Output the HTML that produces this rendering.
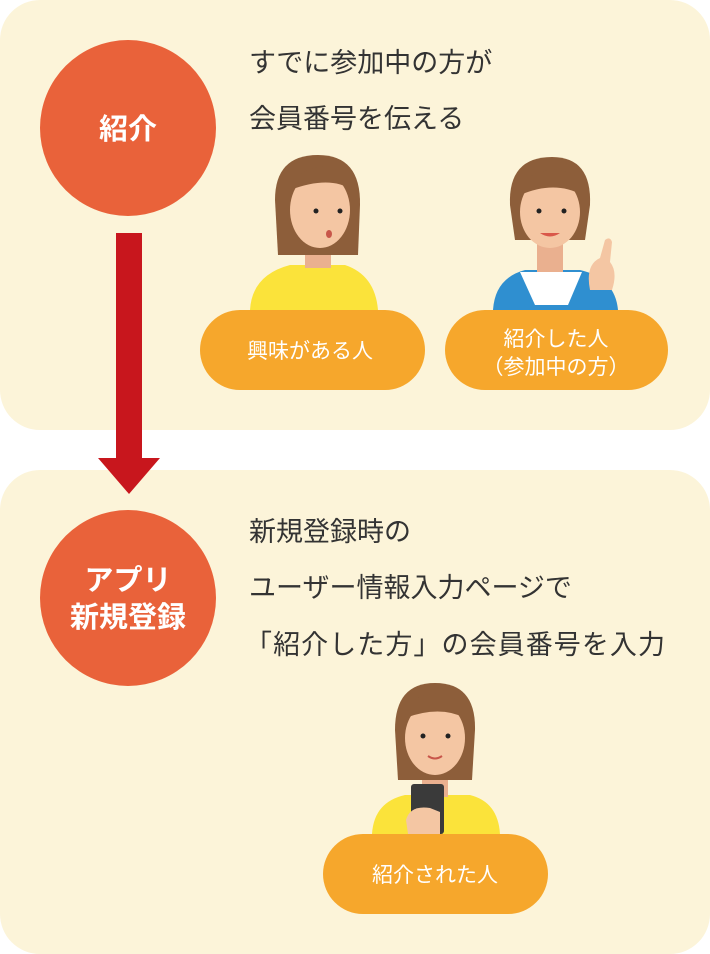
<!DOCTYPE html>
<html><head><meta charset="utf-8"><style>
body{margin:0;background:#fff;}
svg{display:block}
text{font-family:"Liberation Sans","Noto Sans CJK JP",sans-serif;}
</style></head><body>
<svg width="710" height="954" viewBox="0 0 710 954" xmlns="http://www.w3.org/2000/svg">
<rect x="0" y="0" width="710" height="430" rx="40" fill="#fcf4d9"/>
<rect x="0" y="470" width="710" height="484" rx="40" fill="#fcf4d9"/>
<rect x="116" y="233" width="26" height="227" fill="#c8161d"/>
<polygon points="98,458 160,458 129,494" fill="#c8161d"/>
<circle cx="128" cy="128" r="88" fill="#e9623a"/>
<text x="128" y="139" text-anchor="middle" font-size="29" font-weight="bold" fill="#fff">紹介</text>
<circle cx="128" cy="598" r="88" fill="#e9623a"/>
<text x="128" y="590" text-anchor="middle" font-size="29" font-weight="bold" fill="#fff">アプリ</text>
<text x="128" y="627" text-anchor="middle" font-size="29" font-weight="bold" fill="#fff">新規登録</text>
<g font-size="27" fill="#333">
<text x="249" y="72">すでに参加中の方が</text>
<text x="249" y="128">会員番号を伝える</text>
<text x="249" y="541">新規登録時の</text>
<text x="249" y="597">ユーザー情報入力ページで</text>
<text x="245" y="654" textLength="420">「紹介した方」の会員番号を入力</text>
</g>
<g>
<path d="M250,310 Q252,275 290,265 L345,265 Q375,275 378,310 Z" fill="#fbe33a"/>
<rect x="305" y="240" width="26" height="28" fill="#eab08f"/>
<path d="M275,200 Q275,155 318,155 Q361,155 360,205 L358,255 L278,255 Z" fill="#8d5e3a"/>
<ellipse cx="320" cy="210" rx="30" ry="38" fill="#f4c6a3"/>
<path d="M290,190 Q300,160 345,168 Q352,180 352,190 Q330,175 290,190Z" fill="#8d5e3a"/>
<circle cx="316" cy="211" r="2.5" fill="#222"/><circle cx="340" cy="211" r="2.5" fill="#222"/>
<ellipse cx="329" cy="234" rx="3" ry="4" fill="#c8564a"/>
</g>
<g>
<path d="M493,310 Q495,278 525,270 L580,270 Q615,278 618,310 Z" fill="#2f8fd0"/>
<path d="M520,272 L582,272 L568,305 L535,305 Z" fill="#fff"/>
<rect x="537" y="240" width="26" height="32" fill="#eab08f"/>
<path d="M510,205 Q508,157 552,157 Q592,157 590,205 L585,240 L515,240 Z" fill="#8d5e3a"/>
<ellipse cx="550" cy="212" rx="30" ry="36" fill="#f4c6a3"/>
<path d="M520,195 Q525,168 560,170 Q585,175 582,195 Q555,180 520,195Z" fill="#8d5e3a"/>
<circle cx="539" cy="211" r="2.5" fill="#222"/><circle cx="564" cy="211" r="2.5" fill="#222"/>
<path d="M540,233 Q550,240 560,233 Z" fill="#d9584a"/>
<path d="M590,290 Q585,265 600,258 L605,240 Q610,236 612,242 L610,262 Q618,272 612,290 Z" fill="#f4c6a3"/>
</g>
<g>
<path d="M372,834 Q374,802 405,795 L470,795 Q498,802 500,834 Z" fill="#fbe33a"/>
<rect x="422" y="762" width="26" height="35" fill="#eab08f"/>
<path d="M395,730 Q395,683 435,683 Q476,683 475,730 L472,780 L398,780 Z" fill="#8d5e3a"/>
<ellipse cx="435" cy="738" rx="30" ry="37" fill="#f4c6a3"/>
<path d="M405,718 Q410,692 440,694 Q465,698 465,718 Q440,705 405,718Z" fill="#8d5e3a"/>
<circle cx="423" cy="736" r="2.5" fill="#222"/><circle cx="448" cy="736" r="2.5" fill="#222"/>
<path d="M428,756 Q435,761 442,756" stroke="#c8564a" stroke-width="2" fill="none"/>
<rect x="411" y="784" width="33" height="50" rx="3" fill="#3a3a3a"/>
<path d="M406,820 Q410,805 430,808 L440,812 L440,834 L408,834 Z" fill="#f4c6a3"/>
</g>
<g fill="#f6a72c">
<rect x="200" y="310" width="225" height="80" rx="40"/>
<rect x="445" y="310" width="223" height="80" rx="40"/>
<rect x="323" y="834" width="225" height="80" rx="40"/>
</g>
<g font-size="21" fill="#fff" text-anchor="middle">
<text x="310" y="358">興味がある人</text>
<text x="556" y="346">紹介した人</text>
<text x="556" y="374">（参加中の方）</text>
<text x="435" y="882">紹介された人</text>
</g>
</svg>
</body></html>
